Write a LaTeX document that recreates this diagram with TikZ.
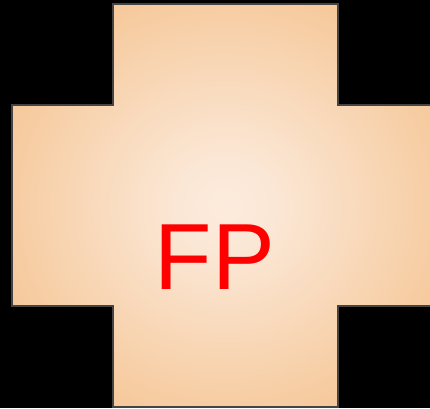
\documentclass[tikz,border=0pt]{standalone}
\usepackage{fontspec}
\setmainfont{Liberation Sans}
\definecolor{crossinner}{RGB}{252,235,221}
\definecolor{crossouter}{RGB}{244,192,138}
\definecolor{crossedge}{RGB}{68,68,68}
\definecolor{fpred}{RGB}{255,0,0}
\pgfdeclareradialshading{crossshade}{\pgfpoint{0bp}{0bp}}{color(0bp)=(crossinner); color(6bp)=(crossinner!90!crossouter); color(34bp)=(crossouter); color(70bp)=(crossouter)}
\begin{document}
\begin{tikzpicture}[x=1pt,y=1pt,
  crossstyle/.style={draw=crossedge, line width=2pt, shading=crossshade},
  labelstyle/.style={text=fpred, font=\fontsize{94}{94}\selectfont, inner sep=0pt, anchor=base}]
\useasboundingbox (0,0) rectangle (430,408);
\fill[black] (0,0) rectangle (430,408);
\clip (0,0) rectangle (430,408);
\path[crossstyle] (113,404) -- (338,404) -- (338,303) -- (439,303) -- (439,102)
  -- (338,102) -- (338,1) -- (113,1) -- (113,102) -- (12,102) -- (12,303)
  -- (113,303) -- cycle;
\node[labelstyle] (fp) at (215,119) {FP};
\end{tikzpicture}
\end{document}
